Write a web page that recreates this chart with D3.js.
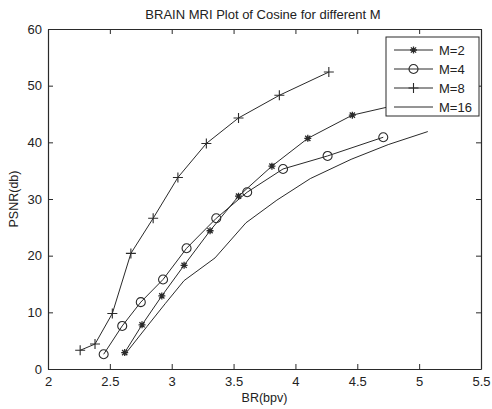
<!DOCTYPE html>
<html>
<head>
<meta charset="utf-8">
<script src="https://cdn.jsdelivr.net/npm/d3@7"></script>
<style>
  body { margin: 0; background: #ffffff; }
  text { font-family: "Liberation Sans", Arial, sans-serif; fill: #222; }
</style>
</head>
<body>
<div id="chart"></div>
<script>
// values
const seriesNames = ['M=2', 'M=4', 'M=8', 'M=16'];
const brM2 = [2.62, 2.76, 2.92, 3.1, 3.31, 3.54, 3.81, 4.1, 4.46, 4.9];
const psnrM2 = [2.9, 7.8, 12.9, 18.3, 24.4, 30.5, 35.8, 40.7, 44.8, 47.0];
const brM4 = [2.45, 2.6, 2.75, 2.93, 3.12, 3.36, 3.61, 3.9, 4.26, 4.71];
const psnrM4 = [2.6, 7.6, 11.8, 15.8, 21.3, 26.6, 31.2, 35.3, 37.6, 40.9];
const brM8 = [2.26, 2.38, 2.52, 2.67, 2.85, 3.05, 3.28, 3.54, 3.87, 4.27];
const psnrM8 = [3.3, 4.4, 9.8, 20.4, 26.6, 33.8, 39.8, 44.3, 48.3, 52.4];
const brM16 = [2.63, 2.8, 2.95, 3.1, 3.35, 3.6, 3.85, 4.12, 4.45, 4.75, 5.07];
const psnrM16 = [2.8, 7.5, 11.6, 15.6, 19.6, 25.8, 29.8, 33.6, 37.0, 39.6, 41.9];
const xTicks = [2, 2.5, 3, 3.5, 4, 4.5, 5, 5.5];
const yTicks = [0, 10, 20, 30, 40, 50, 60];

const series = [
  { name: seriesNames[0], x: brM2, y: psnrM2, marker: 'star' },
  { name: seriesNames[1], x: brM4, y: psnrM4, marker: 'circle' },
  { name: seriesNames[2], x: brM8, y: psnrM8, marker: 'plus' },
  { name: seriesNames[3], x: brM16, y: psnrM16, marker: 'none' }
];

// set the dimensions and margins of the graph
const margin = { top: 29, right: 11, bottom: 40, left: 48 },
  width = 492 - margin.left - margin.right,
  height = 409 - margin.top - margin.bottom;

const ink = '#2a2a2a';

const svg = d3
  .select('#chart')
  .append('svg')
  .attr('width', 492)
  .attr('height', 409);

const g = svg.append('g').attr('transform', `translate(${margin.left}, ${margin.top})`);

const x = d3.scaleLinear().domain([2, 5.5]).range([0, width]);
const y = d3.scaleLinear().domain([0, 60]).range([height, 0]);

// axes: ticks pointing inward on all four sides
const fmt = d => String(d);
g.append('g')
  .attr('transform', `translate(0, ${height})`)
  .call(d3.axisBottom(x).tickValues(xTicks).tickFormat(fmt).tickSizeInner(-5).tickSizeOuter(0).tickPadding(8));
g.append('g')
  .call(d3.axisLeft(y).tickValues(yTicks).tickFormat(fmt).tickSizeInner(-5).tickSizeOuter(0).tickPadding(6));
g.append('g')
  .call(d3.axisTop(x).tickValues(xTicks).tickFormat('').tickSizeInner(-5).tickSizeOuter(0));
g.append('g')
  .attr('transform', `translate(${width}, 0)`)
  .call(d3.axisRight(y).tickValues(yTicks).tickFormat('').tickSizeInner(-5).tickSizeOuter(0));

g.selectAll('.domain').attr('stroke', ink).attr('stroke-width', 1.2);
g.selectAll('.tick line').attr('stroke', ink);
g.selectAll('.tick text').style('font-size', '13px').attr('fill', '#222');

// curves
const line = d3.line().x(d => x(d[0])).y(d => y(d[1]));

function drawMarker(sel, type) {
  if (type === 'circle') {
    sel.append('circle').attr('r', 4.5).attr('fill', 'none').attr('stroke', ink).attr('stroke-width', 1.1);
  } else if (type === 'plus') {
    sel.append('path').attr('d', 'M-5,0H5M0,-5V5').attr('stroke', ink).attr('stroke-width', 1.1);
  } else if (type === 'star') {
    sel.append('path')
      .attr('d', 'M-3.5,0H3.5M0,-3.5V3.5M-2.6,-2.6L2.6,2.6M-2.6,2.6L2.6,-2.6')
      .attr('stroke', ink).attr('stroke-width', 1.3);
  }
}

series.forEach(s => {
  const pts = s.x.map((v, i) => [v, s.y[i]]);
  g.append('path')
    .datum(pts)
    .attr('fill', 'none')
    .attr('stroke', ink)
    .attr('stroke-width', 1)
    .attr('d', line);
  g.selectAll(null)
    .data(pts)
    .enter()
    .append('g')
    .attr('transform', d => `translate(${x(d[0])}, ${y(d[1])})`)
    .each(function () { drawMarker(d3.select(this), s.marker); });
});

// legend (opaque box, covers the end of M=2 as in the original)
const legend = svg.append('g').attr('transform', 'translate(386, 37)');
legend.append('rect')
  .attr('width', 93).attr('height', 79)
  .attr('fill', '#ffffff').attr('stroke', ink).attr('stroke-width', 1);
series.forEach((s, i) => {
  const row = legend.append('g').attr('transform', `translate(0, ${13 + i * 19})`);
  row.append('line').attr('x1', 8).attr('x2', 47).attr('stroke', ink).attr('stroke-width', 1);
  const m = row.append('g').attr('transform', 'translate(27.5, 0)');
  drawMarker(m, s.marker);
  row.append('text').attr('x', 53).attr('y', 5).style('font-size', '13px').text(s.name);
});

// title and axis labels
svg.append('text')
  .attr('x', 263).attr('y', 19)
  .attr('text-anchor', 'middle')
  .style('font-size', '13px')
  .text('BRAIN MRI Plot of Cosine for different M');
svg.append('text')
  .attr('x', margin.left + width / 2).attr('y', 402)
  .attr('text-anchor', 'middle')
  .style('font-size', '12.5px')
  .text('BR(bpv)');
svg.append('text')
  .attr('transform', `translate(18, ${margin.top + height / 2}) rotate(-90)`)
  .attr('text-anchor', 'middle')
  .style('font-size', '12.5px')
  .text('PSNR(db)');
</script>
</body>
</html>
